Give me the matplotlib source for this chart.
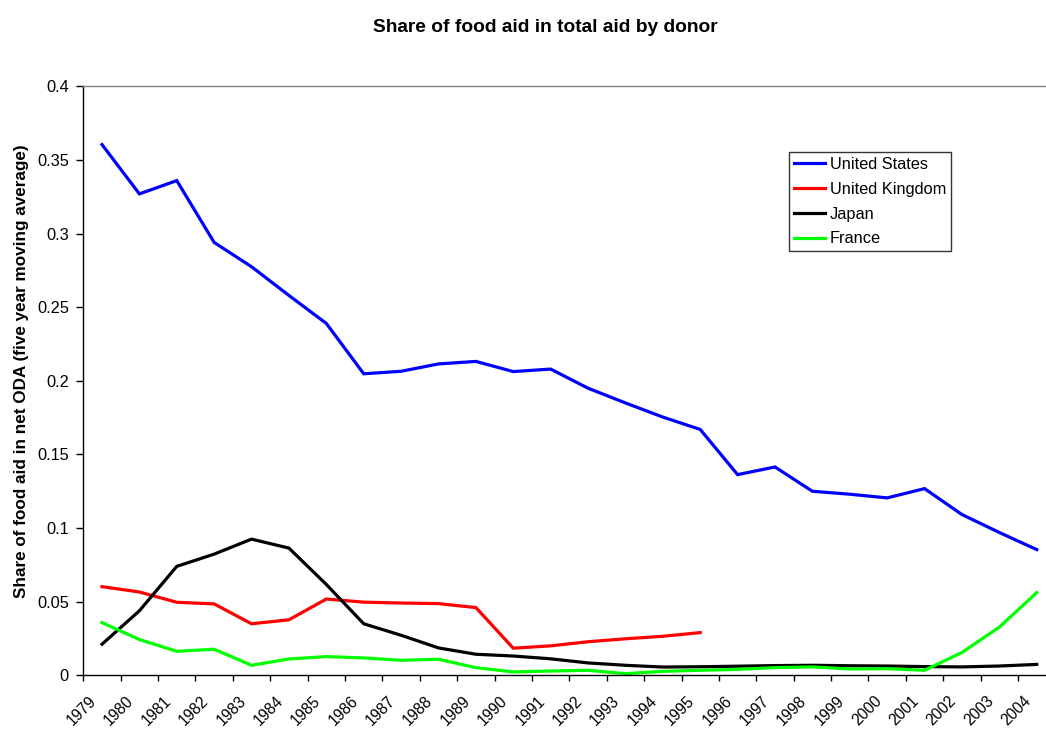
import numpy as np
import matplotlib
matplotlib.use("Agg")
import matplotlib.pyplot as plt
from matplotlib.transforms import ScaledTranslation

plt.rcParams['font.family'] = ['Liberation Sans', 'DejaVu Sans']

years = list(range(1979, 2005))
year_labels = [str(y) for y in years]

us = [0.3605, 0.327, 0.336, 0.294, 0.2775, 0.258, 0.239, 0.2048, 0.2065, 0.2115,
      0.2132, 0.2063, 0.208, 0.195, 0.185, 0.1754, 0.1670, 0.1363, 0.1415, 0.1250,
      0.1230, 0.1205, 0.1268, 0.1092, 0.0970, 0.0854]
uk = [0.0602, 0.0566, 0.0496, 0.0485, 0.0350, 0.0377, 0.0518, 0.0497, 0.0491, 0.0487,
      0.0460, 0.0184, 0.0200, 0.0228, 0.0248, 0.0265, 0.0290] + [np.nan] * 9
japan = [0.0211, 0.0438, 0.0740, 0.0823, 0.0925, 0.0864, 0.0617, 0.0350, 0.0272, 0.0186,
         0.0143, 0.0131, 0.0112, 0.0084, 0.0068, 0.0056, 0.0058, 0.0062, 0.0066, 0.0068,
         0.0065, 0.0063, 0.0059, 0.0057, 0.0063, 0.0074]
france = [0.0358, 0.0243, 0.0163, 0.0177, 0.0068, 0.0111, 0.0127, 0.0118, 0.0102, 0.0109,
          0.0052, 0.0023, 0.0029, 0.0034, 0.0011, 0.0027, 0.0034, 0.0040, 0.0052, 0.0057,
          0.0043, 0.0045, 0.0034, 0.0155, 0.0327, 0.0562]

series = [("United States", us, "#0000FF"),
          ("United Kingdom", uk, "#FF0000"),
          ("Japan", japan, "#000000"),
          ("France", france, "#00FF00")]

yticks = [0, 0.05, 0.1, 0.15, 0.2, 0.25, 0.3, 0.35, 0.4]
ytick_labels = ["0", "0.05", "0.1", "0.15", "0.2", "0.25", "0.3", "0.35", "0.4"]

W, H = 1046, 729
fig = plt.figure(figsize=(W / 100, H / 100), dpi=100)
ax = fig.add_axes([83.3 / W, (H - 675.3) / H, 972.1 / W, 588.9 / H])

x = np.arange(len(years))
for name, vals, col in series:
    ax.plot(x, vals, color=col, lw=2.3, label=name, solid_joinstyle='miter')

ax.set_xlim(-0.5, len(years) - 0.5)
ax.set_ylim(0, 0.4)

# category ticks between categories
ax.set_xticks(np.arange(len(years)) - 0.5, minor=True)
ax.set_xticks(x)
ax.set_xticklabels(year_labels, rotation=45, ha='right', va='center',
                   rotation_mode='anchor', fontsize=11.2)
ax.tick_params(axis='x', which='major', length=0, pad=16.5)
ax.tick_params(axis='x', which='minor', length=4.5, width=1, direction='out', color='black')
offset = ScaledTranslation(-8 / 100, 0, fig.dpi_scale_trans)
for lab in ax.get_xticklabels():
    lab.set_transform(lab.get_transform() + offset)

ax.set_yticks(yticks)
ax.set_yticklabels(ytick_labels, fontsize=11.8)
ax.tick_params(axis='y', length=4.8, width=1, direction='out', pad=5.5, color='black')

for s in ['left', 'bottom']:
    ax.spines[s].set_color('black')
    ax.spines[s].set_linewidth(1.0)
ax.spines['top'].set_color('#808080')
ax.spines['top'].set_linewidth(1.0)
ax.spines['right'].set_color('#808080')

ax.set_ylabel("Share of food aid in net ODA (five year moving average)",
              fontsize=12.3, fontweight='bold')
ax.yaxis.set_label_coords((29 - 83.3) / 972.1, (675.3 - 371) / 588.9)

fig.text(545 / W, 1 - 27 / H, "Share of food aid in total aid by donor",
         ha='center', va='center', fontsize=13.8, fontweight='bold')

leg = ax.legend(loc='upper left', bbox_to_anchor=(789 / W, 1 - 152 / H),
                bbox_transform=fig.transFigure, frameon=True, fancybox=False,
                edgecolor='black', fontsize=11.8, handlelength=1.9,
                handletextpad=0.3, labelspacing=0.6, borderpad=0.3,
                borderaxespad=0)
leg.get_frame().set_linewidth(1.0)
for line in leg.get_lines():
    line.set_linewidth(2.3)

fig.savefig("out.png", dpi=100)
